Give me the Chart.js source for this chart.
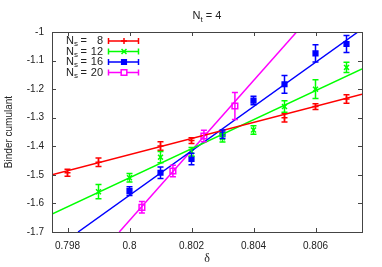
<!DOCTYPE html>
<html>
<head>
    <title>Binder cumulant Nt = 4</title>
    <style>
        body {
            margin: 0;
            padding: 0;
            background-color: #ffffff;
        }
        canvas {
            display: block;
        }
    </style>
    <script src="https://cdn.jsdelivr.net/npm/chart.js"></script>
</head>
<body>
    <canvas id="binderChart" width="382" height="267"></canvas>
    <script>
        // tick values
        const xTicks = [0.798, 0.800, 0.802, 0.804, 0.806];
        const yTicks = [-1.7, -1.6, -1.5, -1.4, -1.3, -1.2, -1.1, -1.0];

        // Ns = 8
        const delta8 = [0.798, 0.799, 0.801, 0.802, 0.805, 0.806, 0.807];
        const binder8 = [-1.4925, -1.456, -1.399, -1.380, -1.300, -1.261, -1.2345];
        const err8 = [0.012, 0.015, 0.015, 0.010, 0.015, 0.010, 0.015];

        // Ns = 12
        const delta12 = [0.799, 0.800, 0.801, 0.802, 0.803, 0.804, 0.805, 0.806, 0.807];
        const binder12 = [-1.559, -1.510, -1.438, -1.419, -1.370, -1.343, -1.261, -1.200, -1.124];
        const err12 = [0.025, 0.015, 0.020, 0.015, 0.015, 0.015, 0.020, 0.033, 0.018];

        // Ns = 16
        const delta16 = [0.800, 0.801, 0.802, 0.803, 0.804, 0.805, 0.806, 0.807];
        const binder16 = [-1.557, -1.4925, -1.4445, -1.358, -1.240, -1.183, -1.075, -1.042];
        const err16 = [0.015, 0.020, 0.020, 0.015, 0.015, 0.031, 0.030, 0.030];

        // Ns = 20
        const delta20 = [0.8004, 0.8014, 0.8024, 0.8034];
        const binder20 = [-1.6136, -1.4865, -1.364, -1.259];
        const err20 = [0.020, 0.020, 0.020, 0.047];

        // linear fits, two end points each
        const fit8 = [[0.7975, -1.500], [0.8075, -1.218]];
        const fit12 = [[0.7975, -1.637], [0.8075, -1.1295]];
        const fit16 = [[0.79834, -1.700], [0.80737, -1.000]];
        const fit20 = [[0.79967, -1.700], [0.80539, -1.000]];

        const sizes = ['8', '12', '16', '20'];
        const colors = ['#ff0000', '#00ff00', '#0000ff', '#ff00ff'];

        function toPoints(xs, ys) {
            return xs.map((x, i) => ({x: x, y: ys[i]}));
        }

        const series = [
            {x: delta8, y: binder8, err: err8, fit: fit8, style: 'cross', radius: 3, fill: false},
            {x: delta12, y: binder12, err: err12, fit: fit12, style: 'crossRot', radius: 3.5, fill: false},
            {x: delta16, y: binder16, err: err16, fit: fit16, style: 'rect', radius: 3.3, fill: true},
            {x: delta20, y: binder20, err: err20, fit: fit20, style: 'rect', radius: 4, fill: false}
        ];

        const datasets = [];
        series.forEach((s, i) => {
            datasets.push({
                label: 'fit' + i,
                data: s.fit.map(p => ({x: p[0], y: p[1]})),
                showLine: true,
                borderColor: colors[i],
                borderWidth: 1.5,
                pointRadius: 0
            });
        });
        series.forEach((s, i) => {
            datasets.push({
                label: 'Ns' + i,
                data: toPoints(s.x, s.y),
                errors: s.err,
                showLine: false,
                pointStyle: s.style,
                pointRadius: s.radius,
                pointBorderWidth: 1.5,
                pointBorderColor: colors[i],
                pointBackgroundColor: s.fill ? colors[i] : 'rgba(255,255,255,0)'
            });
        });

        // vertical error bars with caps, through the chart scales
        const errorBars = {
            id: 'errorBars',
            afterDatasetsDraw(chart) {
                const ctx = chart.ctx;
                const xs = chart.scales.x, ys = chart.scales.y;
                ctx.save();
                chart.data.datasets.forEach(ds => {
                    if (!ds.errors) return;
                    ctx.strokeStyle = ds.pointBorderColor;
                    ctx.lineWidth = 1.5;
                    ds.data.forEach((p, j) => {
                        const px = xs.getPixelForValue(p.x);
                        const top = ys.getPixelForValue(p.y + ds.errors[j]);
                        const bot = ys.getPixelForValue(p.y - ds.errors[j]);
                        ctx.beginPath();
                        ctx.moveTo(px, top); ctx.lineTo(px, bot);
                        ctx.moveTo(px - 3, top); ctx.lineTo(px + 3, top);
                        ctx.moveTo(px - 3, bot); ctx.lineTo(px + 3, bot);
                        ctx.stroke();
                    });
                });
                ctx.restore();
            }
        };

        // gnuplot style frame, inward ticks, titles and legend
        const frame = {
            id: 'frame',
            afterDraw(chart) {
                const ctx = chart.ctx;
                const a = chart.chartArea;
                const xs = chart.scales.x, ys = chart.scales.y;
                ctx.save();
                ctx.strokeStyle = '#444';
                ctx.lineWidth = 1;
                ctx.strokeRect(Math.round(a.left) + 0.5, Math.round(a.top) + 0.5,
                    Math.round(a.right - a.left), Math.round(a.bottom - a.top));
                ctx.beginPath();
                xTicks.forEach(v => {
                    const px = Math.round(xs.getPixelForValue(v)) + 0.5;
                    ctx.moveTo(px, a.bottom); ctx.lineTo(px, a.bottom - 4);
                    ctx.moveTo(px, a.top); ctx.lineTo(px, a.top + 4);
                });
                yTicks.forEach(v => {
                    const py = Math.round(ys.getPixelForValue(v)) + 0.5;
                    ctx.moveTo(a.left, py); ctx.lineTo(a.left + 4, py);
                    ctx.moveTo(a.right, py); ctx.lineTo(a.right - 4, py);
                });
                ctx.stroke();

                ctx.fillStyle = '#222';
                // title N_t = 4
                const cx = (a.left + a.right) / 2;
                ctx.font = '11px "Liberation Sans"';
                ctx.textBaseline = 'alphabetic';
                ctx.textAlign = 'left';
                const wN = ctx.measureText('N').width;
                ctx.font = '8px "Liberation Sans"';
                const wt = ctx.measureText('t').width;
                ctx.font = '11px "Liberation Sans"';
                const wRest = ctx.measureText(' = 4').width;
                let tx = cx - (wN + wt + wRest) / 2;
                ctx.fillText('N', tx, 19);
                ctx.font = '8px "Liberation Sans"';
                ctx.fillText('t', tx + wN, 22);
                ctx.font = '11px "Liberation Sans"';
                ctx.fillText(' = 4', tx + wN + wt, 19);

                // axis titles
                ctx.font = '10px "Liberation Sans"';
                ctx.textAlign = 'center';
                ctx.textBaseline = 'middle';
                ctx.save();
                ctx.translate(9, (a.top + a.bottom) / 2);
                ctx.rotate(-Math.PI / 2);
                ctx.fillText('Binder cumulant', 0, 0);
                ctx.restore();
                ctx.font = '12px "Liberation Serif"';
                ctx.fillText('δ', cx, 259);

                // legend
                sizes.forEach((n, i) => {
                    const y = 41 + i * 10.5;
                    ctx.fillStyle = '#222';
                    ctx.textBaseline = 'middle';
                    ctx.textAlign = 'left';
                    ctx.font = '11px "Liberation Sans"';
                    ctx.fillText('N', 66, y);
                    ctx.font = '8px "Liberation Sans"';
                    ctx.fillText('s', 74, y + 3);
                    ctx.font = '11px "Liberation Sans"';
                    ctx.fillText('=', 80.5, y);
                    ctx.textAlign = 'right';
                    ctx.fillText(n, 103, y);

                    ctx.strokeStyle = colors[i];
                    ctx.lineWidth = 1.5;
                    ctx.beginPath();
                    ctx.moveTo(108, y); ctx.lineTo(139, y);
                    ctx.moveTo(108.5, y - 3); ctx.lineTo(108.5, y + 3);
                    ctx.moveTo(138.5, y - 3); ctx.lineTo(138.5, y + 3);
                    ctx.stroke();
                    const s = series[i];
                    ctx.fillStyle = s.fill ? colors[i] : '#ffffff';
                    Chart.helpers.drawPoint(ctx, {
                        pointStyle: s.style, radius: s.radius, borderWidth: 1.5, rotation: 0
                    }, 124, y);
                });
                ctx.restore();
            }
        };

        new Chart(document.getElementById('binderChart'), {
            type: 'scatter',
            data: {datasets: datasets},
            plugins: [errorBars, frame],
            options: {
                responsive: false,
                animation: false,
                layout: {padding: {top: 32, right: 20, left: 0, bottom: 0}},
                plugins: {legend: {display: false}, title: {display: false}, tooltip: {enabled: false}},
                scales: {
                    x: {
                        type: 'linear',
                        min: 0.7975,
                        max: 0.8075,
                        grid: {display: false, drawTicks: false},
                        border: {display: false},
                        afterBuildTicks: scale => { scale.ticks = xTicks.map(v => ({value: v})); },
                        afterFit: scale => { scale.height = 35; },
                        ticks: {
                            padding: 8,
                            maxRotation: 0,
                            color: '#222',
                            font: {family: 'Liberation Sans', size: 10},
                            callback: v => String(+v.toFixed(4))
                        }
                    },
                    y: {
                        type: 'linear',
                        min: -1.7,
                        max: -1.0,
                        grid: {display: false, drawTicks: false},
                        border: {display: false},
                        afterBuildTicks: scale => { scale.ticks = yTicks.map(v => ({value: v})); },
                        afterFit: scale => { scale.width = 52; },
                        ticks: {
                            padding: 8,
                            color: '#222',
                            font: {family: 'Liberation Sans', size: 10},
                            callback: v => String(+v.toFixed(4))
                        }
                    }
                }
            }
        });
    </script>
</body>
</html>
